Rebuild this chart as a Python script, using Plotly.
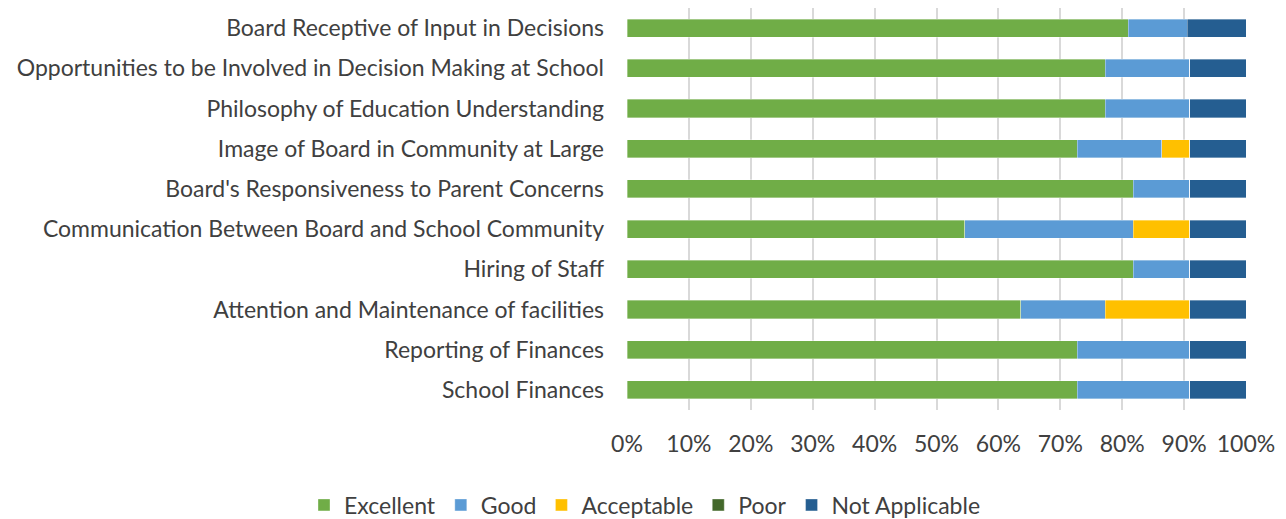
import plotly.graph_objects as go

categories = [
    "Board Receptive of Input in Decisions",
    "Opportunities to be Involved in Decision Making at School",
    "Philosophy of Education Understanding",
    "Image of Board in Community at Large",
    "Board's Responsiveness to Parent Concerns",
    "Communication Between Board and School Community",
    "Hiring of Staff",
    "Attention and Maintenance of facilities",
    "Reporting of Finances",
    "School Finances",
]

# response counts per category (normalised to percent by the chart)
excellent = [17, 17, 17, 16, 18, 12, 18, 14, 16, 16]
good = [2, 3, 3, 3, 2, 6, 2, 3, 4, 4]
acceptable = [0, 0, 0, 1, 0, 2, 0, 3, 0, 0]
poor = [0, 0, 0, 0, 0, 0, 0, 0, 0, 0]
not_applicable = [2, 2, 2, 2, 2, 2, 2, 2, 2, 2]

series = [
    ("Excellent", excellent, "#70AD47"),
    ("Good", good, "#5B9BD5"),
    ("Acceptable", acceptable, "#FFC000"),
    ("Poor", poor, "#43682B"),
    ("Not Applicable", not_applicable, "#255E91"),
]

x_ticks = [0, 10, 20, 30, 40, 50, 60, 70, 80, 90, 100]

fig = go.Figure()
for name, vals, color in series:
    fig.add_trace(go.Bar(
        y=categories, x=vals, name=name, orientation="h",
        marker=dict(color=color, line=dict(color="rgba(255,255,255,0.5)", width=0.7)),
    ))

font_family = "Lato, 'Open Sans', sans-serif"
W, H = 1278, 511          # page body adds an 8px offset
L, R, T, B = 619, 40, 0, 109
plot_w, plot_h = W - L - R, H - T - B

fig.update_layout(
    barmode="stack",
    barnorm="percent",
    bargap=0.55,
    width=W, height=H,
    margin=dict(l=L, r=R, t=T, b=B, autoexpand=False),
    paper_bgcolor="white", plot_bgcolor="white",
    font=dict(family=font_family, size=23, color="#404040"),
    showlegend=True,
    legend=dict(
        orientation="h",
        x=(296 - L) / plot_w, xanchor="left",
        y=(plot_h - 497) / plot_h, yanchor="middle",
        font=dict(size=23, color="#404040"), itemwidth=30,
        traceorder="normal",
    ),
    xaxis=dict(
        range=[0, 100], tickvals=x_ticks,
        ticktext=[f"{v}%" for v in x_ticks],
        showgrid=True, gridcolor="#D9D9D9", gridwidth=2,
        zeroline=False, showline=False,
        ticks="", ticklabelstandoff=18,
    ),
    yaxis=dict(
        categoryorder="array", categoryarray=categories,
        autorange="reversed", showgrid=False, zeroline=False,
        ticks="", ticklabelstandoff=22,
    ),
)

fig.write_html("out.html")
